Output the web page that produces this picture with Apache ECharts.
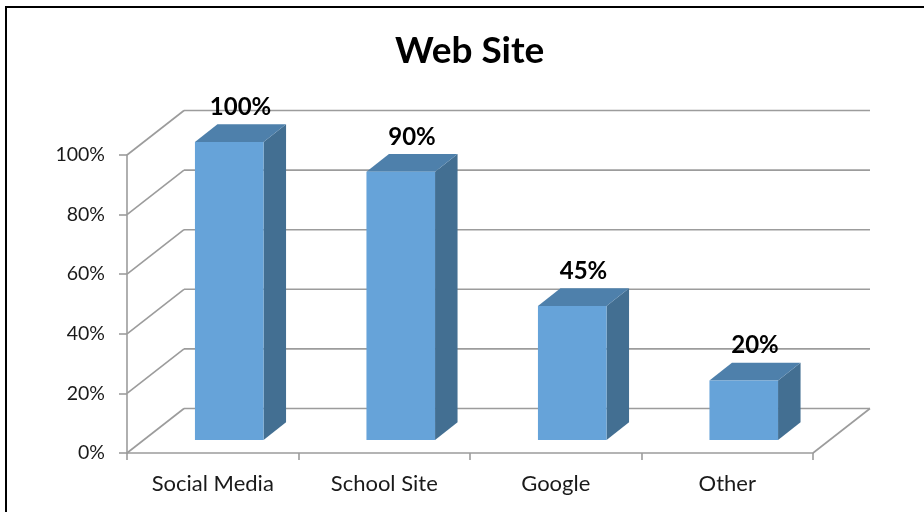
<!DOCTYPE html>
<html>
<head>
<meta charset="utf-8">
<script src="https://cdn.jsdelivr.net/npm/echarts@6/dist/echarts.min.js"></script>
<style>
  html, body { margin: 0; padding: 0; background: #fff; }
  #chart { width: 924px; height: 512px; }
</style>
</head>
<body>
<div id="chart"></div>
<script>
var categories = ['Social Media', 'School Site', 'Google', 'Other'];
var values = [100, 90, 45, 20];
var yTicks = [0, 20, 40, 60, 80, 100];

// fake 3d offsets (px)
var WALL = [57, -44.5];
var FRONT = [16.5, -13];
var DEPTH = [22.5, -17.7];
var BAR_RATIO = 0.4;
var GRID_COLOR = '#9c9c9c';

var chart = echarts.init(document.getElementById('chart'));

function renderWall(params, api) {
    var t = api.value(1);
    var cs = params.coordSys;
    var y = api.coord([0, t])[1];
    var xl = cs.x, xr = cs.x + cs.width;
    var st = { stroke: GRID_COLOR, lineWidth: 1.6 };
    var kids = [
        { type: 'line', shape: { x1: xl, y1: y, x2: xl + WALL[0], y2: y + WALL[1] }, style: st },
        { type: 'line', shape: { x1: xl + WALL[0], y1: y + WALL[1], x2: xr + WALL[0], y2: y + WALL[1] }, style: st }
    ];
    if (t === 0) {
        kids.push({ type: 'line', shape: { x1: xr, y1: y, x2: xr + WALL[0], y2: y + WALL[1] }, style: st });
    }
    return { type: 'group', children: kids };
}

function renderBar(params, api) {
    var i = api.value(0), v = api.value(1);
    var base = api.coord([i, 0]);
    var top = api.coord([i, v]);
    var bw = api.size([1, 0])[0] * BAR_RATIO;
    var x0 = base[0] - bw / 2 + FRONT[0], x1 = x0 + bw;
    var yb = base[1] + FRONT[1], yt = top[1] + FRONT[1];
    var dx = DEPTH[0], dy = DEPTH[1];
    return {
        type: 'group',
        children: [
            { type: 'polygon', shape: { points: [[x1, yt], [x1 + dx, yt + dy], [x1 + dx, yb + dy], [x1, yb]] }, style: { fill: '#436f92' } },
            { type: 'polygon', shape: { points: [[x0, yt], [x1, yt], [x1 + dx, yt + dy], [x0 + dx, yt + dy]] }, style: { fill: '#4e80ab' } },
            { type: 'polygon', shape: { points: [[x0, yt], [x1, yt], [x1, yb], [x0, yb]] }, style: { fill: '#66a3d9' } },
            {
                type: 'text',
                style: {
                    text: v + '%', x: (x0 + x1) / 2 + dx / 2, y: yt + dy - 17,
                    align: 'center', verticalAlign: 'middle',
                    fontFamily: 'Lato', fontWeight: 'bold', fontSize: 24, fill: '#000'
                }
            }
        ]
    };
}

option = {
    animation: false,
    backgroundColor: '#fff',
    title: {
        text: 'Web Site',
        left: 390,
        top: 28,
        textStyle: { fontFamily: 'Lato', fontWeight: 'bold', fontSize: 37, color: '#000' }
    },
    graphic: [{
        type: 'rect',
        shape: { x: 6, y: 7, width: 940, height: 540 },
        style: { fill: 'none', stroke: '#000', lineWidth: 2 }
    }],
    grid: { left: 127, right: 111, top: 155, bottom: 59 },
    xAxis: {
        type: 'category',
        data: categories,
        axisLine: { lineStyle: { color: GRID_COLOR, width: 1.6 } },
        axisTick: { show: true, length: 7, lineStyle: { color: GRID_COLOR, width: 1.6 } },
        axisLabel: { fontFamily: 'Lato', fontSize: 22, color: '#1a1a1a', margin: 20 }
    },
    yAxis: {
        type: 'value',
        min: 0,
        max: 100,
        interval: 20,
        axisLine: { show: true, lineStyle: { color: GRID_COLOR, width: 1.6 } },
        axisTick: { show: true, length: 8, lineStyle: { color: GRID_COLOR, width: 1.6 } },
        splitLine: { show: false },
        axisLabel: { formatter: '{value}%', fontFamily: 'Lato', fontSize: 19.5, color: '#1a1a1a', margin: 22 }
    },
    series: [
        {
            name: 'wall',
            type: 'custom',
            renderItem: renderWall,
            data: yTicks.map(function (t) { return [0, t]; }),
            z: 1,
            silent: true
        },
        {
            name: 'Web Site',
            type: 'custom',
            renderItem: renderBar,
            data: values.map(function (v, i) { return [i, v]; }),
            z: 3
        }
    ]
};

chart.setOption(option);
</script>
</body>
</html>
